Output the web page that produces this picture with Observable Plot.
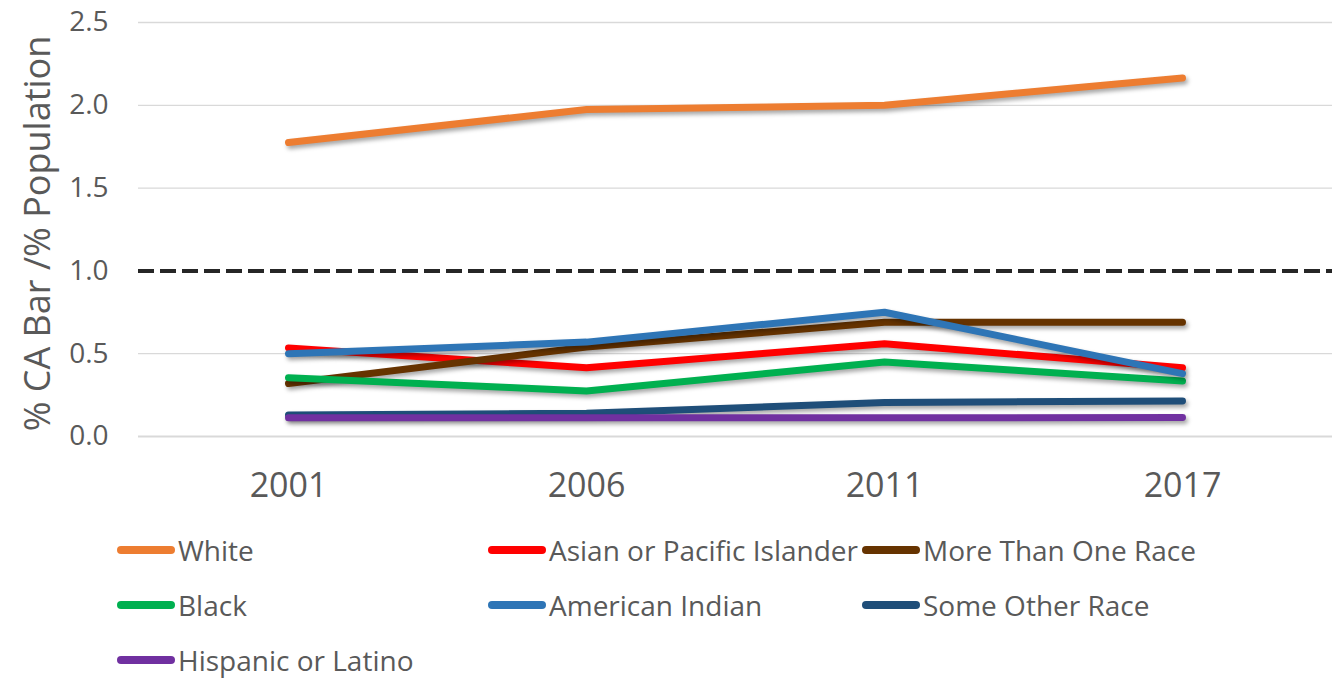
<!DOCTYPE html>
<html>
<head>
<meta charset="utf-8">
<script src="https://cdn.jsdelivr.net/npm/d3@7"></script>
<script src="https://cdn.jsdelivr.net/npm/@observablehq/plot@0.6"></script>
<style>
  html, body { margin: 0; padding: 0; background: #fff; }
  body { width: 1332px; height: 678px; overflow: hidden; font-family: "Open Sans", sans-serif; }
  #chart svg g[aria-label="line"] path { filter: drop-shadow(2px 3px 2px rgba(0,0,0,0.35)); }
  #legend { position: relative; width: 1332px; height: 158px; }
  .item { position: absolute; height: 40px; display: flex; align-items: center; color: #595959; font-size: 28px; white-space: nowrap; }
  .sw { width: 58px; height: 8px; border-radius: 4px; margin-right: 3px; }
</style>
</head>
<body>
<div id="chart"></div>
<div id="legend"></div>
<script>
const years = ["2001", "2006", "2011", "2017"];
const seriesNames = ["White", "Asian or Pacific Islander", "More Than One Race", "Black", "American Indian", "Some Other Race", "Hispanic or Latino"];
const seriesColors = ["#ED7D31", "#FF0000", "#663300", "#00B050", "#2E75B6", "#1F4E79", "#7030A0"];
const white = [1.775, 1.975, 2.0, 2.165];
const asian = [0.535, 0.415, 0.56, 0.415];
const multiRace = [0.32, 0.54, 0.69, 0.69];
const black = [0.355, 0.275, 0.45, 0.335];
const amIndian = [0.50, 0.57, 0.75, 0.38];
const otherRace = [0.13, 0.14, 0.205, 0.215];
const hispanic = [0.113, 0.113, 0.113, 0.115];
const yTicks = [0, 0.5, 1.0, 1.5, 2.0, 2.5];
const parityLine = [1.0];
const yTitle = "% CA Bar /% Population";

const seriesValues = [white, asian, multiRace, black, amIndian, otherRace, hispanic];
const data = [];
seriesNames.forEach((name, i) => {
  years.forEach((yr, j) => data.push({series: name, year: yr, value: seriesValues[i][j]}));
});

const chart = Plot.plot({
  width: 1332,
  height: 520,
  marginLeft: 138,
  marginRight: 0,
  marginTop: 22,
  marginBottom: 84,
  style: {fontFamily: "Open Sans, sans-serif", color: "#595959", background: "#fff"},
  x: {type: "point", domain: years, padding: 0.5, axis: null},
  y: {domain: [0, 2.5], axis: null},
  color: {domain: seriesNames, range: seriesColors},
  marks: [
    Plot.gridY(yTicks.filter(d => d !== 0 && d !== 1), {stroke: "#d9d9d9", strokeOpacity: 1, strokeWidth: 1.3}),
    Plot.ruleY([0], {stroke: "#d9d9d9", strokeWidth: 2}),
    Plot.ruleY(parityLine, {stroke: "#262626", strokeWidth: 4, strokeDasharray: "16,6"}),
    Plot.axisY(yTicks, {tickSize: 0, tickPadding: 30, fontSize: 28, fill: "#595959", label: null, tickFormat: d => d.toFixed(1)}),
    Plot.axisX({tickSize: 0, tickPadding: 36, fontSize: 34, fill: "#595959", label: null}),
    Plot.line(data, {x: "year", y: "value", z: "series", stroke: "series", strokeWidth: 7, strokeLinecap: "round", strokeLinejoin: "round"}),
    Plot.text([yTitle], {frameAnchor: "left", textAnchor: "middle", rotate: -90, dx: -100, dy: 4, fontSize: 36, fill: "#595959"})
  ]
});
document.getElementById("chart").appendChild(chart);

const legend = document.getElementById("legend");
const colLeft = [117, 488, 862];
const rowCenter = [30, 85, 140];
seriesNames.forEach((name, i) => {
  const item = document.createElement("div");
  item.className = "item";
  item.style.left = colLeft[i % 3] + "px";
  item.style.top = (rowCenter[Math.floor(i / 3)] - 20) + "px";
  const sw = document.createElement("div");
  sw.className = "sw";
  sw.style.background = seriesColors[i];
  const tx = document.createElement("span");
  tx.textContent = name;
  item.appendChild(sw);
  item.appendChild(tx);
  legend.appendChild(item);
});
</script>
</body>
</html>
